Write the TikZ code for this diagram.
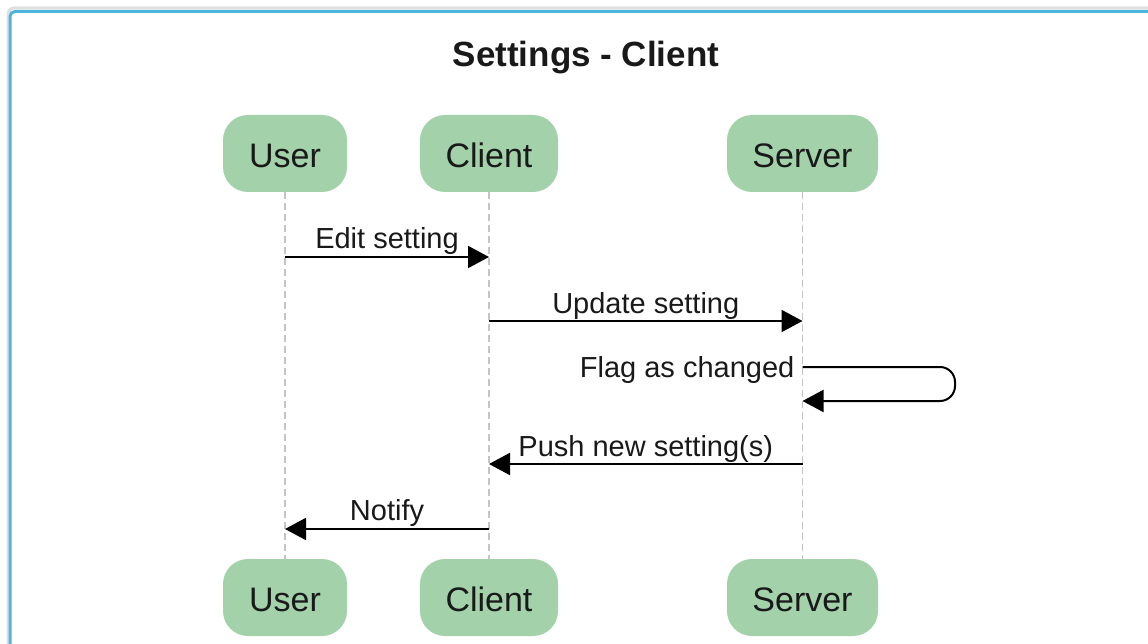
\documentclass[tikz,border=0pt]{standalone}
\usepackage{fontspec}
\setmainfont{Liberation Sans}
\usetikzlibrary{arrows.meta,calc}

\definecolor{framecol}{RGB}{77,181,220}
\definecolor{actorfill}{RGB}{162,209,170}
\definecolor{lifecol}{RGB}{196,196,196}
\definecolor{inkcol}{RGB}{25,25,25}

\tikzset{
  actor/.style={draw=none, fill=actorfill, rounded corners=25pt, inner sep=0pt,
    minimum height=77pt, text=inkcol, text height=28pt, text depth=0pt,
    font=\fontsize{34}{40}\selectfont},
  lifeline/.style={draw=lifecol, line width=1.5pt, dash pattern=on 7pt off 4pt},
  msg/.style={draw=black, line width=2pt, -{Triangle[length=21pt,width=22pt]}},
  msglabel/.style={font=\fontsize{29}{34}\selectfont, text=inkcol, inner sep=0pt},
}

\begin{document}
\begin{tikzpicture}[x=1pt, y=-1pt]
  \useasboundingbox (0,0) rectangle (1148,644);
  \clip (0,0) rectangle (1148,644);

  % outer panel with soft shadow and blue border
  \draw[black!12, line width=3pt, rounded corners=6pt] (8,700) -- (8,8) -- (1200,8);
  \draw[framecol, line width=3pt, rounded corners=5pt] (10,700) -- (10,11.5) -- (1200,11.5);

  % title
  \node[anchor=base, inner sep=0pt, font=\bfseries\fontsize{35}{42}\selectfont, text=inkcol]
    (title) at (586,67) {Settings - Client};

  % participants (top)
  \node[actor, minimum width=124pt] (u1) at (285,153.5) {User};
  \node[actor, minimum width=138pt] (c1) at (489,153.5) {Client};
  \node[actor, minimum width=151pt] (s1) at (802.5,153.5) {Server};

  % participants (bottom)
  \node[actor, minimum width=124pt] (u2) at (285,597.5) {User};
  \node[actor, minimum width=138pt] (c2) at (489,597.5) {Client};
  \node[actor, minimum width=151pt] (s2) at (802.5,597.5) {Server};

  % lifelines
  \draw[lifeline] (u1.south) -- (u2.north);
  \draw[lifeline] (c1.south) -- (c2.north);
  \draw[lifeline] (s1.south) -- (s2.north);

  % messages
  \draw[msg] (u1.south |- 0,257) -- (c1.south |- 0,257)
    node[msglabel, midway, anchor=base, yshift=8.5pt] (m1) {Edit setting};
  \draw[msg] (c1.south |- 0,321) -- (s1.south |- 0,321)
    node[msglabel, midway, anchor=base, yshift=8pt] (m2) {Update setting};

  % self message on the server
  \coordinate (loopA) at (s1.south |- 0,367);
  \coordinate (loopB) at (s1.south |- 0,401);
  \draw[msg, rounded corners=15pt] (loopA) -- (955,367) -- (955,401) -- (loopB);
  \node[msglabel, anchor=base east] (m3) at ($(loopA)+(-8,10)$) {Flag as changed};

  \draw[msg] (s1.south |- 0,464) -- (c1.south |- 0,464)
    node[msglabel, midway, anchor=base, yshift=7.5pt] (m4) {Push new setting(s)};
  \draw[msg] (c1.south |- 0,529) -- (u1.south |- 0,529)
    node[msglabel, midway, anchor=base, yshift=9pt] (m5) {Notify};
\end{tikzpicture}
\end{document}
